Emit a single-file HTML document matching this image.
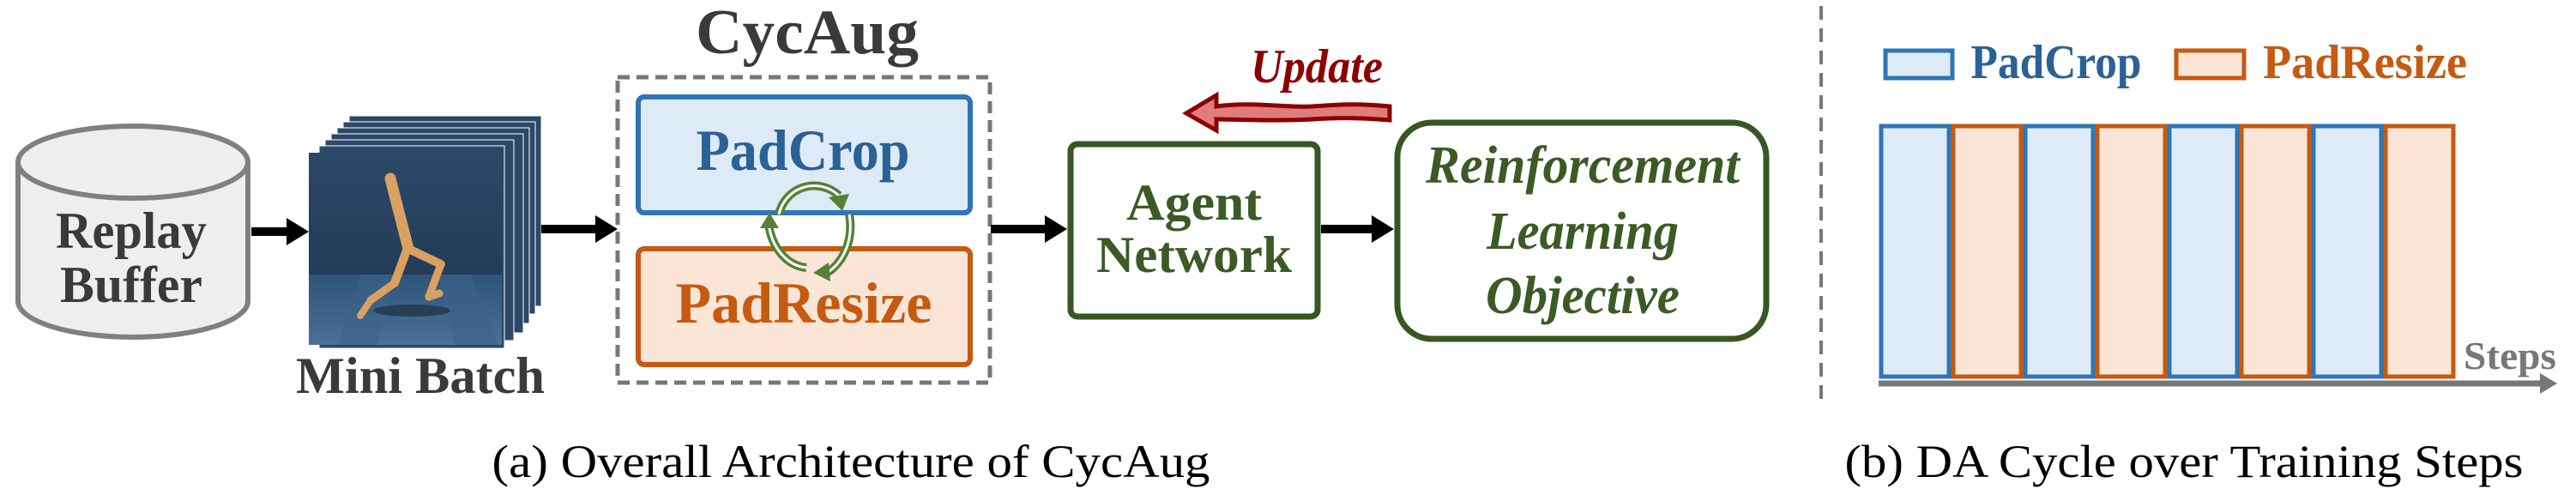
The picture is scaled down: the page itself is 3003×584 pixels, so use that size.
<!DOCTYPE html>
<html><head><meta charset="utf-8"><style>
html,body{margin:0;padding:0;background:#fff;}
svg{display:block;}
text{font-family:"Liberation Serif",serif;}
</style></head><body>
<svg width="3003" height="584" viewBox="0 0 3003 584" xmlns="http://www.w3.org/2000/svg">
<defs>
<linearGradient id="sky" x1="0" y1="0" x2="0" y2="1"><stop offset="0" stop-color="#2c4866"/><stop offset="1" stop-color="#1e3550"/></linearGradient>
<linearGradient id="floor" x1="0" y1="0" x2="0" y2="1"><stop offset="0" stop-color="#2f5478"/><stop offset="1" stop-color="#4a7098"/></linearGradient>
</defs>
<!-- Replay buffer cylinder -->
<path d="M21,189 L21,351 A134,42 0 0 0 289,351 L289,189" fill="#eeeeee" stroke="#808080" stroke-width="6"/>
<ellipse cx="155" cy="189" rx="134" ry="42" fill="#eeeeee" stroke="#808080" stroke-width="6"/>
<text x="153" y="289" text-anchor="middle" font-size="60" font-weight="bold" fill="#3a3a3a" textLength="176" lengthAdjust="spacingAndGlyphs">Replay</text>
<text x="153" y="352" text-anchor="middle" font-size="60" font-weight="bold" fill="#3a3a3a" textLength="166" lengthAdjust="spacingAndGlyphs">Buffer</text>
<!-- arrow 1 -->
<line x1="293" y1="270" x2="338" y2="270" stroke="#000" stroke-width="10"/>
<polygon points="334,254 360,270 334,286" fill="#000"/>
<!-- mini batch stack -->
<g>
<rect x="407" y="135" width="224" height="222" fill="#2b4868" stroke="#fff" stroke-width="1"/>
<rect x="400" y="142" width="224" height="224" fill="#2b4868" stroke="#fff" stroke-width="1"/>
<rect x="393" y="149" width="224" height="228" fill="#2b4868" stroke="#fff" stroke-width="1"/>
<rect x="386" y="156" width="224" height="232" fill="#2b4868" stroke="#fff" stroke-width="1"/>
<rect x="379" y="163" width="220" height="234" fill="#2b4868" stroke="#fff" stroke-width="1"/>
<rect x="372" y="170" width="216" height="236" fill="#2b4868" stroke="#fff" stroke-width="1"/>
<rect x="360" y="178" width="225" height="224" fill="url(#sky)"/>
<rect x="360" y="320" width="225" height="82" fill="url(#floor)"/>
<polygon points="420,320 460,320 440,402 395,402" fill="#3c6288" opacity="0.6"/>
<polygon points="510,320 550,320 580,402 530,402" fill="#3c6288" opacity="0.6"/>
<ellipse cx="480" cy="362" rx="45" ry="7" fill="#1c2f45" opacity="0.7"/>
<g stroke="#d9a060" stroke-linecap="round" fill="none">
<line x1="455" y1="208" x2="476" y2="290" stroke-width="13"/>
<line x1="476" y1="290" x2="514" y2="308" stroke-width="10"/>
<line x1="514" y1="308" x2="500" y2="346" stroke-width="9"/>
<line x1="500" y1="346" x2="512" y2="342" stroke-width="9"/>
<line x1="474" y1="292" x2="460" y2="330" stroke-width="10"/>
<line x1="460" y1="330" x2="432" y2="350" stroke-width="9"/>
<line x1="432" y1="350" x2="420" y2="368" stroke-width="8"/>
</g>
</g>
<text x="490" y="458" text-anchor="middle" font-size="60" font-weight="bold" fill="#3a3a3a" textLength="290" lengthAdjust="spacingAndGlyphs">Mini Batch</text>
<!-- arrow 2 -->
<line x1="631" y1="267" x2="698" y2="267" stroke="#000" stroke-width="10"/>
<polygon points="694,251 720,267 694,283" fill="#000"/>
<!-- CycAug -->
<text x="941" y="62" text-anchor="middle" font-size="74" font-weight="bold" fill="#3a3a3a" textLength="260" lengthAdjust="spacingAndGlyphs">CycAug</text>
<rect x="720" y="90" width="434" height="356" fill="none" stroke="#777" stroke-width="5" stroke-dasharray="14,8"/>
<rect x="744" y="113" width="387" height="135" rx="7" fill="#deebf7" stroke="#2e75b6" stroke-width="6"/>
<text x="936" y="198" text-anchor="middle" font-size="68" font-weight="bold" fill="#2a6296" textLength="249" lengthAdjust="spacingAndGlyphs">PadCrop</text>
<rect x="744" y="290" width="387" height="135" rx="7" fill="#fbe5d6" stroke="#c55a11" stroke-width="6"/>
<text x="937" y="376" text-anchor="middle" font-size="68" font-weight="bold" fill="#c55a11" textLength="299" lengthAdjust="spacingAndGlyphs">PadResize</text>
<!-- cycle arrows -->
<g fill="none">
<path d="M908,250 A42,42 0 0 1 978,228" stroke="#548235" stroke-width="10"/>
<path d="M908,250 A42,42 0 0 1 978,228" stroke="#fff" stroke-width="3"/>
<polygon points="966,230 990,226 982,246" fill="#548235"/>
<path d="M990,250 A48,60 0 0 1 960,320" stroke="#548235" stroke-width="10"/>
<path d="M990,250 A48,60 0 0 1 960,320" stroke="#fff" stroke-width="3"/>
<polygon points="966,306 948,318 968,328" fill="#548235"/>
<path d="M940,312 A48,60 0 0 1 896,260" stroke="#548235" stroke-width="10"/>
<path d="M940,312 A48,60 0 0 1 896,260" stroke="#fff" stroke-width="3"/>
<polygon points="886,266 897,248 908,266" fill="#548235"/>
</g>
<!-- arrow 3 -->
<line x1="1155" y1="267" x2="1222" y2="267" stroke="#000" stroke-width="10"/>
<polygon points="1218,251 1244,267 1218,283" fill="#000"/>
<!-- Agent Network -->
<rect x="1248" y="168" width="288" height="201" rx="8" fill="#fff" stroke="#375623" stroke-width="7"/>
<text x="1392" y="256" text-anchor="middle" font-size="60" font-weight="bold" fill="#3b5a26" textLength="158" lengthAdjust="spacingAndGlyphs">Agent</text>
<text x="1392" y="317" text-anchor="middle" font-size="60" font-weight="bold" fill="#3b5a26" textLength="228" lengthAdjust="spacingAndGlyphs">Network</text>
<!-- arrow 4 -->
<line x1="1540" y1="267" x2="1603" y2="267" stroke="#000" stroke-width="10"/>
<polygon points="1599,251 1625,267 1599,283" fill="#000"/>
<!-- RL box -->
<rect x="1629" y="143" width="430" height="252" rx="40" fill="#fff" stroke="#375623" stroke-width="7"/>
<text x="1845" y="213" text-anchor="middle" font-size="62" font-weight="bold" font-style="italic" fill="#3b5a26" textLength="366" lengthAdjust="spacingAndGlyphs">Reinforcement</text>
<text x="1845" y="290" text-anchor="middle" font-size="62" font-weight="bold" font-style="italic" fill="#3b5a26" textLength="224" lengthAdjust="spacingAndGlyphs">Learning</text>
<text x="1845" y="365" text-anchor="middle" font-size="62" font-weight="bold" font-style="italic" fill="#3b5a26" textLength="226" lengthAdjust="spacingAndGlyphs">Objective</text>
<!-- Update -->
<text x="1535" y="96" text-anchor="middle" font-size="56" font-weight="bold" font-style="italic" fill="#8b0000" textLength="154" lengthAdjust="spacingAndGlyphs">Update</text>
<path d="M1620,124 C1580,120 1560,122 1530,124 C1500,126 1460,118 1418,124 L1418,111 L1383,132 L1418,152 L1418,139 C1460,140 1500,141 1530,139 C1560,137 1580,137 1620,140 Z" fill="#e07c7c" stroke="#8b0000" stroke-width="5" stroke-linejoin="miter"/>
<!-- captions -->
<text x="992" y="556" text-anchor="middle" font-size="54" fill="#000" textLength="837" lengthAdjust="spacingAndGlyphs">(a) Overall Architecture of CycAug</text>
<text x="2546" y="556" text-anchor="middle" font-size="54" fill="#000" textLength="791" lengthAdjust="spacingAndGlyphs">(b) DA Cycle over Training Steps</text>
<!-- divider -->
<line x1="2123" y1="7" x2="2123" y2="466" stroke="#777" stroke-width="4" stroke-dasharray="16,10"/>
<!-- legend -->
<rect x="2198" y="59" width="78" height="32" fill="#deebf7" stroke="#2e75b6" stroke-width="5"/>
<text x="2397" y="91" text-anchor="middle" font-size="56" font-weight="bold" fill="#2a6296" textLength="199" lengthAdjust="spacingAndGlyphs">PadCrop</text>
<rect x="2537" y="59" width="79" height="32" fill="#fbe5d6" stroke="#c55a11" stroke-width="5"/>
<text x="2757" y="91" text-anchor="middle" font-size="56" font-weight="bold" fill="#c55a11" textLength="238" lengthAdjust="spacingAndGlyphs">PadResize</text>
<!-- bars -->
<g stroke-width="5">
<rect x="2193" y="147" width="79" height="292" fill="#deebf7" stroke="#2e75b6"/>
<rect x="2277" y="147" width="79" height="292" fill="#fbe5d6" stroke="#c55a11"/>
<rect x="2361" y="147" width="79" height="292" fill="#deebf7" stroke="#2e75b6"/>
<rect x="2445" y="147" width="79" height="292" fill="#fbe5d6" stroke="#c55a11"/>
<rect x="2529" y="147" width="79" height="292" fill="#deebf7" stroke="#2e75b6"/>
<rect x="2613" y="147" width="79" height="292" fill="#fbe5d6" stroke="#c55a11"/>
<rect x="2697" y="147" width="79" height="292" fill="#deebf7" stroke="#2e75b6"/>
<rect x="2781" y="147" width="79" height="292" fill="#fbe5d6" stroke="#c55a11"/>
</g>
<line x1="2190" y1="447" x2="2965" y2="447" stroke="#777" stroke-width="7"/>
<polygon points="2961,435 2981,447 2961,459" fill="#777"/>
<text x="2926" y="430" text-anchor="middle" font-size="46" font-weight="bold" fill="#777" textLength="108" lengthAdjust="spacingAndGlyphs">Steps</text>
</svg>
</body></html>
